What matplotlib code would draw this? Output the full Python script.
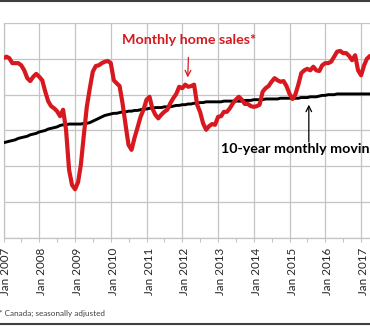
import matplotlib
matplotlib.use("Agg")
import matplotlib.pyplot as plt
import matplotlib.dates as mdates
import matplotlib.transforms as mtransforms
from matplotlib.lines import Line2D
import pandas as pd

# Monthly home sales, Canada, seasonally adjusted (thousands), Jan 2007 onward
sales = [
    45.1, 45.3, 45.1, 44.4, 44.4, 44.4, 44.1, 43.4, 42.3, 41.9, 42.5, 42.9,   # 2007
    42.5, 42.0, 40.5, 39.1, 38.4, 38.1, 37.7, 37.0, 37.9, 35.1, 29.5, 27.4,   # 2008
    26.8, 27.8, 30.2, 34.4, 38.3, 40.9, 43.2, 44.0, 44.1, 44.4, 44.6, 44.7,   # 2009
    44.4, 42.0, 41.6, 41.2, 38.8, 35.8, 33.0, 32.3, 34.0, 35.4, 36.9, 37.9,   # 2010
    39.3, 39.7, 38.1, 37.2, 36.7, 37.2, 37.6, 37.9, 38.8, 39.5, 40.1, 41.1,   # 2011
    40.9, 41.4, 41.1, 41.2, 41.4, 38.6, 37.6, 36.0, 35.1, 35.6, 35.9, 35.8,   # 2012
    36.9, 37.0, 37.6, 37.6, 38.1, 38.8, 39.3, 39.7, 39.3, 38.7, 38.7, 38.4,   # 2013
    38.3, 38.4, 38.6, 40.4, 40.9, 41.2, 41.8, 42.3, 42.0, 41.8, 41.9, 41.2,   # 2014
    40.1, 39.4, 40.0, 41.4, 43.0, 43.4, 43.6, 43.4, 43.9, 43.4, 43.3, 44.1,   # 2015
    44.4, 44.4, 44.6, 45.3, 46.0, 46.1, 45.8, 45.8, 45.4, 44.8, 45.5, 43.4,   # 2016
    42.7, 44.1, 45.0, 45.4, 45.5,                                             # 2017
]

# 10-year monthly moving average (thousands)
moving_avg = [
    33.3, 33.4, 33.5, 33.6, 33.7, 33.9, 34.0, 34.1, 34.2, 34.4, 34.5, 34.6,
    34.8, 34.9, 35.0, 35.2, 35.3, 35.4, 35.5, 35.7, 35.8, 35.8, 35.9, 35.9,
    35.9, 35.9, 35.9, 36.0, 36.0, 36.1, 36.3, 36.5, 36.7, 36.9, 37.1, 37.2,
    37.3, 37.4, 37.4, 37.5, 37.6, 37.6, 37.7, 37.7, 37.8, 37.8, 37.9, 38.0,
    38.0, 38.1, 38.1, 38.2, 38.2, 38.2, 38.3, 38.3, 38.3, 38.4, 38.5, 38.5,
    38.6, 38.6, 38.7, 38.7, 38.8, 38.8, 38.9, 38.9, 39.0, 39.0, 39.0, 39.0,
    39.0, 39.0, 39.1, 39.1, 39.1, 39.1, 39.1, 39.1, 39.1, 39.2, 39.2, 39.2,
    39.3, 39.3, 39.3, 39.3, 39.4, 39.4, 39.4, 39.4, 39.4, 39.5, 39.5, 39.5,
    39.5, 39.5, 39.5, 39.5, 39.6, 39.6, 39.6, 39.7, 39.7, 39.7, 39.8, 39.9,
    39.9, 40.0, 40.0, 40.0, 40.1, 40.1, 40.1, 40.1, 40.1, 40.1, 40.1, 40.1,
    40.1, 40.1, 40.1, 40.1, 40.1,
]

start_month = "2007-01-01"
y_ticks = [20, 25, 30, 35, 40, 45, 50]

red = "#d7191f"
grid_col = "#c4c4c4"

plt.rcParams["font.family"] = ["Lato", "DejaVu Sans"]

dates = pd.date_range(start_month, periods=len(sales), freq="MS")

fig = plt.figure(figsize=(3.70, 3.26), dpi=100)
ax = fig.add_axes([3.5 / 370, 1 - 238 / 326, 1 - 3.5 / 370, (238 - 23) / 326])

ax.plot(dates, moving_avg, color="black", lw=2.1, zorder=3, solid_capstyle="round")
ax.plot(dates, sales, color=red, lw=3.0, zorder=4, solid_joinstyle="round")

ax.set_xlim(pd.Timestamp("2007-01-01"), pd.Timestamp("2017-04-02"))
ax.set_ylim(y_ticks[0], y_ticks[-1])
ax.set_yticks(y_ticks)
ax.tick_params(axis="y", left=False, labelleft=False)

ax.xaxis.set_major_locator(mdates.YearLocator())
ax.xaxis.set_minor_locator(mdates.MonthLocator(bymonth=7))
ax.xaxis.set_major_formatter(mdates.DateFormatter("Jan %Y"))
ax.tick_params(axis="x", which="both", direction="out", length=3, width=0.8,
               color=grid_col, pad=4)
ax.tick_params(axis="x", which="major", labelsize=8.4, labelrotation=90,
               labelcolor="#262626")

# labels sit a little right of their gridline, as in the original
shift = mtransforms.ScaledTranslation(2.5 / 100, 0, fig.dpi_scale_trans)
for lbl in ax.get_xticklabels():
    lbl.set_transform(lbl.get_transform() + shift)

ax.grid(True, which="major", color=grid_col, lw=0.9, zorder=0)
for side in ["top", "right"]:
    ax.spines[side].set_visible(False)
for side in ["left", "bottom"]:
    ax.spines[side].set_color(grid_col)
    ax.spines[side].set_linewidth(0.9)

# annotations
ax.annotate("Monthly home sales*", xy=(pd.Timestamp("2012-02-26"), 42.4),
            xytext=(pd.Timestamp("2012-03-10"), 47.6),
            ha="center", va="center", color=red, fontsize=10.3, fontweight="bold",
            arrowprops=dict(arrowstyle="->", color=red, lw=0.9,
                            shrinkA=6, shrinkB=0))
ax.annotate("", xy=(pd.Timestamp("2015-07-17"), 38.6),
            xytext=(pd.Timestamp("2015-07-17"), 33.4),
            arrowprops=dict(arrowstyle="->", color="black", lw=0.9,
                            shrinkA=0, shrinkB=0))
ax.text(pd.Timestamp("2013-02-01"), 32.4, "10-year monthly moving average",
        ha="left", va="center", color="black", fontsize=10.3, fontweight="bold",
        clip_on=False)

fig.text(-0.004, 1 - 313 / 326, "* Canada; seasonally adjusted", fontsize=5.9,
         color="#404040", ha="left", va="center")

# frame lines at top and bottom of the image
fig.add_artist(Line2D([0, 1], [1 - 0.8 / 326, 1 - 0.8 / 326], color="#404040", lw=1.5))
fig.add_artist(Line2D([0, 1], [1 - 324 / 326, 1 - 324 / 326], color="#404040", lw=1.5))

fig.savefig("out.png", dpi=100)
